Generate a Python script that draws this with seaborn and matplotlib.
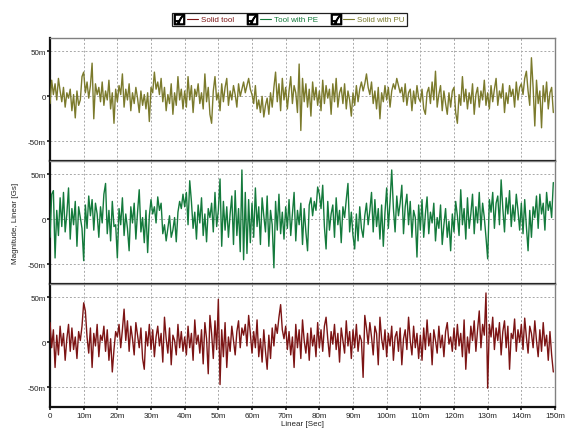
import numpy as np
import pandas as pd
import matplotlib
matplotlib.use("Agg")
import matplotlib.pyplot as plt
from matplotlib.lines import Line2D
from matplotlib.legend_handler import HandlerTuple
from matplotlib.ticker import FuncFormatter
import seaborn as sns

# Vibration magnitude in milli-Gs, sampled every 0.5 ms over 150 ms
SAMPLE_STEP_MS = 0.5

solid_with_pu = [
    -8, 18, 2, 14, -4, 20, 6, -6, 10, -12, 4, -2, 8, -16, 2, -24, 6, -10, -4, 22,
    27, 4, 16, -2, 12, 37, -25, 14, 2, 10, -6, 16, -10, 6, -4, 18, -14, 4, -30, 8,
    -6, 12, 2, 25, -12, 8, -4, 14, -16, 4, -8, 10, -2, -18, 6, -10, 2, -14, 4, -28,
    10, 4, 27, 8, 16, 2, 20, -6, 10, -16, 2, -8, 14, -20, 4, -10, 22, -4, 8, -14,
    6, -12, 22, -4, 12, -18, 8, 0, 14, -8, 4, -14, 25, -6, 10, -20, -30, 6, 22, -4,
    4, -16, 14, -6, 10, 20, -10, 6, -4, 12, 2, -12, 14, 0, 8, 16, 4, 12, 20, 8,
    2, -8, 12, -14, -4, -18, 0, -23, -10, -2, -20, 4, -12, 10, 27, -6, 14, -16, 20, -4,
    10, -14, 6, 22, -8, 12, 4, -18, 36, -38, 20, -6, 14, -12, 8, -22, 16, -4, 10, -10,
    6, -16, 18, -8, 12, -2, 8, -20, 14, -6, 20, -12, 4, 10, -8, 14, -14, 6, -4, -22,
    4, -10, 12, -6, 8, 16, 6, 14, 25, 10, 2, 16, -8, 6, -14, 10, -25, 4, -6, 12,
    -4, 10, -12, 6, 14, 8, 20, 12, 4, 10, -6, 14, -10, 4, 8, -16, 6, -8, 12, -2,
    -6, 8, -14, -20, 4, 10, -8, 16, -4, 28, -12, 2, 12, -16, 6, -8, -20, 4, -12, 6,
    10, -18, -30, 2, -10, 22, -6, 8, -14, 4, -8, 14, -20, 2, 10, -12, 6, -4, 18, -10,
    4, -14, 12, -6, 8, 20, -10, 6, -2, 14, -18, 4, -8, 12, 0, 8, -12, 16, -4, 10,
    14, 2, 20, 28, 6, -10, 43, 10, -33, 18, -8, 6, -35, 12, -6, 16, -14, 4, 10, -18,
]

tool_with_pe = [
    -20, 28, 32, -43, 10, -18, 24, -8, 30, -14, 6, 35, -22, 12, -6, 20, -30, 14, 2, -10,
    -46, 16, -10, 26, 4, 22, -12, 18, 6, -20, 14, -4, 28, 40, -16, 10, -24, 20, -8, -6,
    -43, 12, -6, 24, -18, 6, -10, -35, 14, -4, 18, -22, 8, 33, -14, 2, -26, 10, -37, 4,
    22, 6, 14, -4, 25, 10, 18, -16, -6, -24, -10, 4, -20, -12, 2, -25, 8, 20, 12, 28,
    14, 30, -6, 43, 20, -10, 8, -22, 16, -4, 24, -18, 6, -25, 12, 2, 18, -14, 30, -8,
    10, 45, -30, 20, -12, 14, -20, 6, 26, -28, 32, -18, 12, -36, 55, -45, 30, -38, 22, -26,
    18, -20, 35, -8, 14, -28, 24, 4, -14, 26, -30, 10, -6, -54, 20, -12, 28, -16, 8, -22,
    14, -10, 22, -18, 6, 30, -24, 10, -6, 18, -28, 12, -14, -35, 16, 24, 4, 20, 10, 36,
    28, 12, 38, -8, -33, 20, -12, 6, 16, -20, 24, -6, 10, -26, 14, 2, 22, 40, -14, 8,
    -18, -33, 6, -24, 14, -10, -20, 4, 18, -6, 10, 30, -14, 22, -8, 12, -22, 16, -30, 8,
    35, -10, 20, 55, 12, -14, 26, 4, 18, 38, -16, 14, 28, -6, 20, -20, 10, 2, -42, 16,
    -12, 22, -20, 6, 25, -16, 8, -4, 18, -24, 2, -10, 16, -28, -6, 12, -20, -2, -35, 6,
    -14, 20, 4, -18, 33, -6, 12, -22, 24, -10, 6, 28, -16, 14, -4, 30, -12, 18, 2, -20,
    -44, 22, 8, 30, -10, 18, 26, -6, 44, 12, -14, 24, 6, 32, -8, 16, -2, 28, 10, -12,
    18, -16, 22, -8, -35, 10, -20, 14, 2, 26, -10, 28, 6, 18, -12, 30, 10, 20, 2, 41,
]

solid_tool = [
    22, -6, 14, -28, 8, -14, 18, -4, 10, -20, 4, 20, -10, 16, -8, 6, -18, 12, 2, 18,
    44, 35, 6, -12, 16, -28, 10, -4, 20, -16, 8, 2, 18, -10, 14, -20, 4, -33, -8, 12,
    6, 20, -6, 14, 37, 2, 24, -10, 18, 4, -14, 22, 8, -6, 16, -18, -30, 12, -4, 20,
    -8, 14, -16, 6, 18, -4, 10, -22, 28, 4, -12, 16, -25, 8, 2, -14, 20, -6, 12, -10,
    6, -14, 18, -6, 10, -20, 25, -2, 8, -12, 14, -24, 22, 4, -35, 30, 10, -18, 24, -8,
    48, -47, 14, -16, 22, -28, 6, -10, 18, 2, -14, 12, 24, -6, 16, 8, 20, -4, 30, 10,
    -12, 12, -6, 25, -16, 4, -22, 14, -10, -30, 8, -18, 16, -4, 20, 10, 28, 42, 14, 4,
    18, -8, 12, -14, 6, -28, 20, -6, 14, -18, 25, 2, -12, 10, -20, 16, -4, 8, -16, 22,
    -6, 14, -10, 18, 28, 4, -16, 12, -2, 20, -8, 10, -22, 16, 2, -12, 24, -4, 12, -18,
    14, -6, 20, -10, 8, 2, -39, 30, 16, -2, 22, 6, -14, 18, 10, -25, 28, 4, -8, 14,
    -16, 10, -4, 18, -20, 6, 12, -10, 16, -25, 4, 14, -8, 28, 2, -14, 18, -6, 10, -18,
    8, -20, 16, -8, 25, -4, 10, -25, 14, 2, -12, 18, -6, 8, -16, 12, 22, -2, 6, -10,
    16, -8, 20, -4, 10, -16, 25, -30, 6, -12, 18, 2, 24, -10, 14, 35, -6, 20, 8, 55,
    -51, 20, 6, 28, -8, 16, 2, 22, -14, 12, 24, -6, 18, -30, 10, 4, 26, -10, 14, 0,
    20, -8, 27, 6, -12, 18, 10, -6, 24, 2, -16, 14, -10, 22, -4, 8, -20, 12, -14, -33,
]

series_names = ["Solid with PU", "Tool with PE", "Solid tool"]
series_values = [solid_with_pu, tool_with_pe, solid_tool]
series_colors = ["#7b7a2c", "#147a3c", "#7c1414"]
legend_order = ["Solid tool", "Tool with PE", "Solid with PU"]

x_ticks = list(range(0, 151, 10))
x_tick_labels = ["0" if v == 0 else f"{v}m" for v in x_ticks]
y_ticks = [-50, 0, 50]

sns.set_theme(style="white")
plt.rcParams["font.family"] = ["Liberation Sans", "DejaVu Sans"]
FS = 5.8

fig, axes = plt.subplots(3, 1, figsize=(5.69, 4.31), dpi=100, sharex=True,
                         gridspec_kw=dict(hspace=0))
fig.patch.set_facecolor("white")
fig.subplots_adjust(left=0.0879, right=0.9754, top=0.9095, bottom=0.0534)

def milli(v, _pos):
    return "0" if v == 0 else f"{int(v)}m"

for ax, name, vals, color in zip(axes, series_names, series_values, series_colors):
    df = pd.DataFrame({"time": np.arange(len(vals)) * SAMPLE_STEP_MS, "value": vals})
    sns.lineplot(data=df, x="time", y="value", ax=ax, color=color, lw=1.0,
                 estimator=None, zorder=3)
    ax.set_xlim(0, 150)
    ax.set_ylim(-72, 65)
    ax.set_yticks(y_ticks)
    ax.yaxis.set_major_formatter(FuncFormatter(milli))
    ax.set_xticks(x_ticks)
    ax.grid(True, color="#a8a8a8", linestyle=(0, (2, 2)), linewidth=0.7, zorder=0)
    ax.set_ylabel("")
    ax.set_xlabel("")
    ax.set_facecolor("white")
    for side in ("left", "bottom"):
        ax.spines[side].set_color("#101010")
        ax.spines[side].set_linewidth(1.6)
    for side in ("top", "right"):
        ax.spines[side].set_color("#808080")
        ax.spines[side].set_linewidth(1.0)
    ax.tick_params(axis="y", labelsize=FS, length=2, pad=1, colors="#222222",
                   left=True)
    ax.tick_params(axis="x", labelsize=FS, length=2, pad=1.5, colors="#222222",
                   bottom=True)

axes[-1].set_xticklabels(x_tick_labels)
axes[-1].set_xlabel("Linear [Sec]", fontsize=FS, labelpad=0.5, color="#222222")
fig.text(16 / 569, 0.4826, "Magnitude, Linear [Gs]", rotation=90, fontsize=FS,
         ha="center", va="center", color="#222222")

# Legend with check-box style entries
color_of = dict(zip(series_names, series_colors))
handles = []
for name in legend_order:
    box = Line2D([], [], marker="$\u2611$", color="black", markersize=7.5,
                 linestyle="none")
    seg = Line2D([], [], color=color_of[name], lw=0.8)
    handles.append((box, seg))
leg = fig.legend(handles, legend_order, loc="center",
                 bbox_to_anchor=(289.5 / 569, 1 - 20.5 / 431), ncol=3,
                 handler_map={tuple: HandlerTuple(ndivide=None, pad=0.3)},
                 handlelength=3.0, handletextpad=0.4, columnspacing=1.5,
                 fontsize=FS, frameon=True, fancybox=False, borderpad=0.3,
                 edgecolor="#202020", framealpha=1)
leg.get_frame().set_linewidth(0.9)
for txt, name in zip(leg.get_texts(), legend_order):
    txt.set_color(color_of[name])

fig.savefig("out.png", dpi=100, facecolor="white")
